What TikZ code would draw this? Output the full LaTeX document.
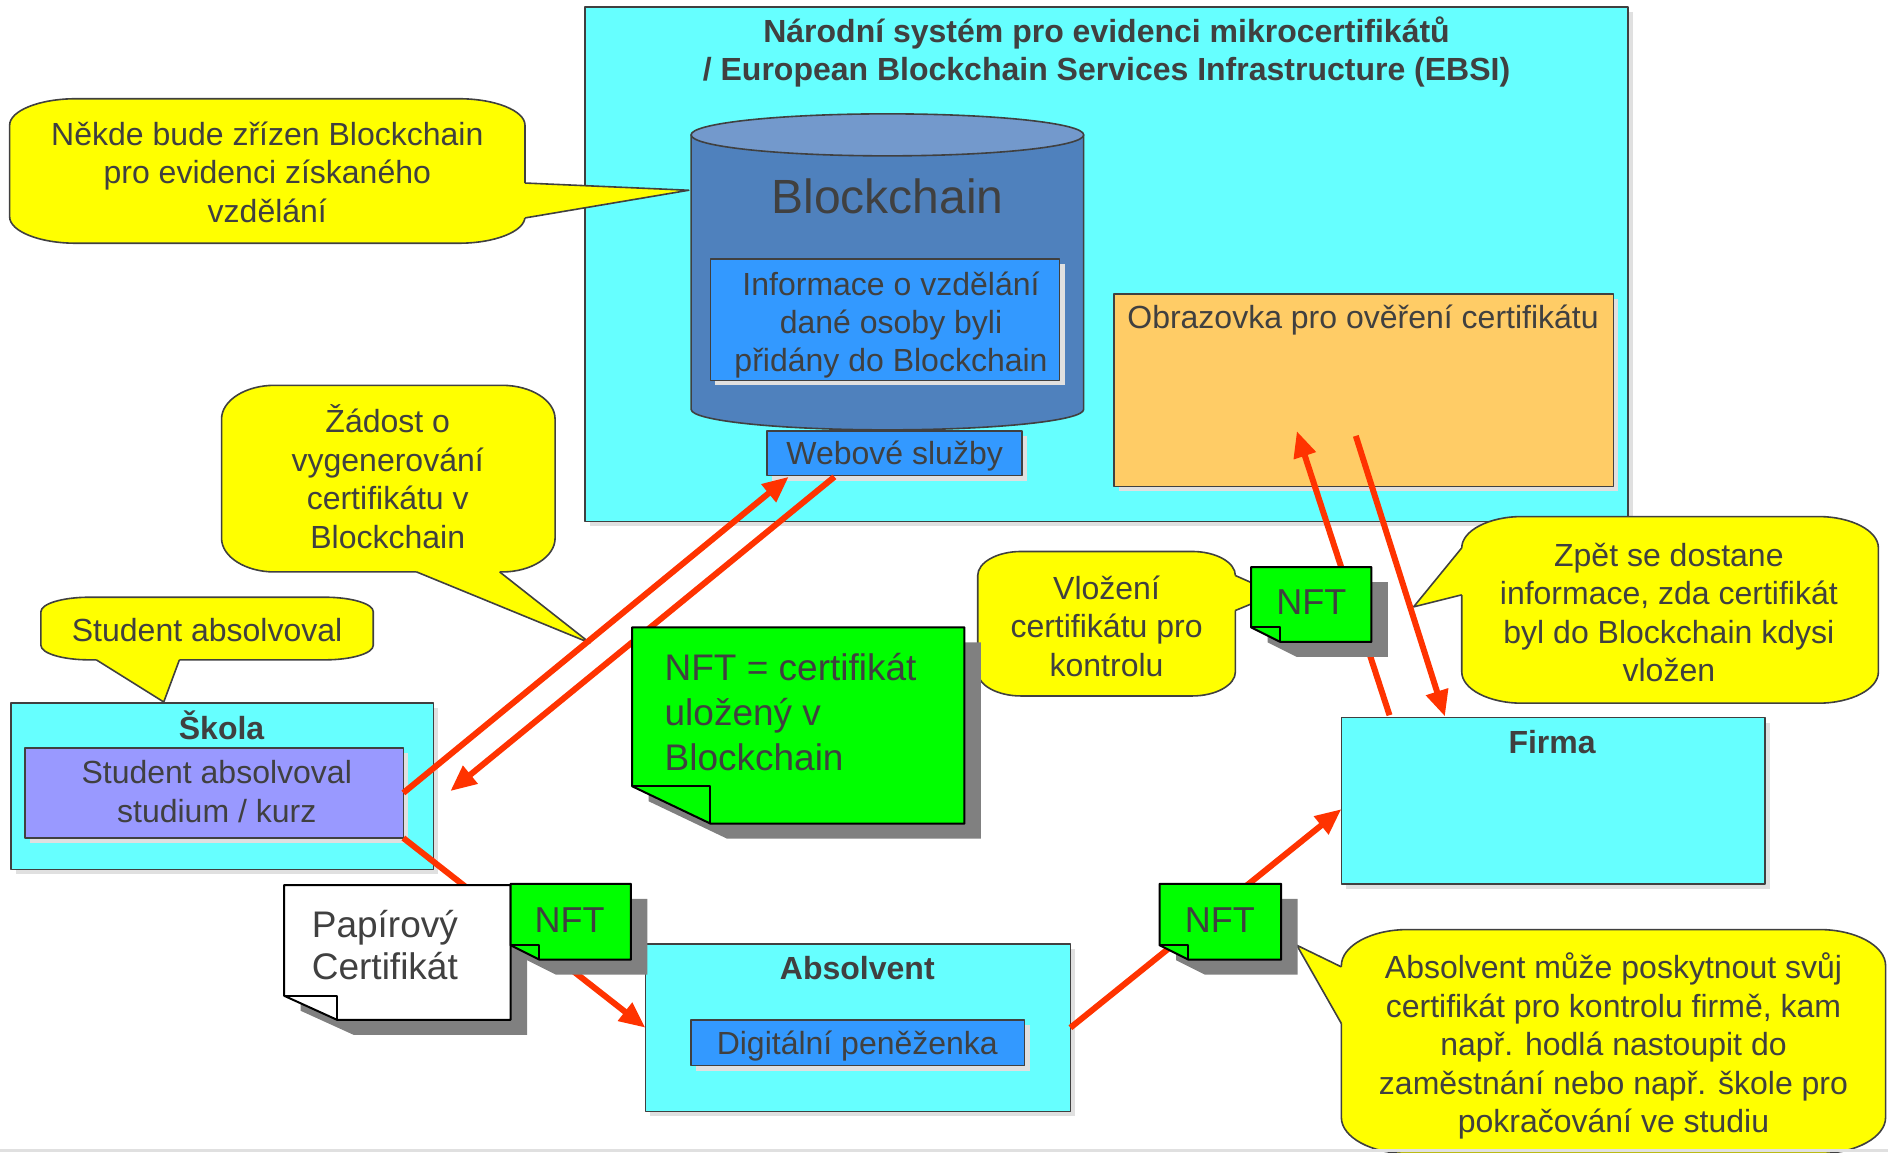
\documentclass[tikz,border=0pt]{standalone}
\usepackage{fontspec}
\setmainfont{Liberation Sans}
\usetikzlibrary{arrows.meta,shadows,fit}
\definecolor{cyanbox}{HTML}{66FFFF}
\definecolor{txt}{HTML}{404040}
\definecolor{bord}{HTML}{404040}
\definecolor{ybub}{HTML}{FFFF00}
\definecolor{nftg}{HTML}{00FF00}
\definecolor{blu}{HTML}{3399FF}
\definecolor{cyl}{HTML}{4F81BD}
\definecolor{cyltop}{HTML}{7399CC}
\definecolor{orng}{HTML}{FFCC66}
\definecolor{purp}{HTML}{9999FF}
\definecolor{arr}{HTML}{FF3300}
\definecolor{lsh}{HTML}{E0E0E0}
\definecolor{dsh}{HTML}{808080}
\newcommand\rrbox[6]{(#1,{#2+#6}) .. controls (#1,{#2+0.45*#6}) and ({#1+0.45*#5},#2) .. ({#1+#5},#2) -- ({#3-#5},#2) .. controls ({#3-0.45*#5},#2) and (#3,{#2+0.45*#6}) .. (#3,{#2+#6}) -- (#3,{#4-#6}) .. controls (#3,{#4-0.45*#6}) and ({#3-0.45*#5},#4) .. ({#3-#5},#4) -- ({#1+#5},#4) .. controls ({#1+0.45*#5},#4) and (#1,{#4-0.45*#6}) .. (#1,{#4-#6}) -- cycle}
\newcommand\notepath[7]{%
 \draw[note, fill=#1] (#2,#3) -- (#4,#3) -- (#4,#5) -- (#6,#5) -- (#2,#7) -- cycle;
 \draw[line width=2pt, line join=round] (#2,#7) -- (#6,#7) -- (#6,#5);}
\begin{document}
\begin{tikzpicture}[x=1.204pt,y=-1.204pt, line join=round,
 every node/.style={text=txt, inner sep=0pt, outer sep=0pt},
 box/.style={draw=bord, line width=1.6pt, general shadow={fill=lsh, shadow xshift=5pt, shadow yshift=-5pt}},
 bub/.style={draw=bord, line width=1.6pt, fill=ybub},
 ptr/.style={draw=bord, line width=1.6pt},
 note/.style={draw=black, line width=2pt, general shadow={fill=dsh, shadow xshift=16.5pt, shadow yshift=-15pt}},
 conn/.style={draw=arr, line width=6pt, -{Triangle[length=26pt,width=22pt]}},
 t32/.style={font=\fontsize{32}{38.5}\selectfont, align=center},
 b32/.style={font=\bfseries\fontsize{32}{38.5}\selectfont, align=center},
 nftt/.style={font=\fontsize{36}{43}\selectfont},
 ]
\useasboundingbox (0,0) rectangle (1568,957);
\clip (0,0) rectangle (1568,957);
% main system box
\node[box, fill=cyanbox, fit={(486,6) (1352,433)}] (ebsi) {};
\node[b32] (title) at (919,43) {Národní systém pro evidenci mikrocertifikátů\\/ European Blockchain Services Infrastructure (EBSI)};
% cylinder
\path[draw=bord, line width=1.6pt, fill=cyl] (574,112) -- (574,340) .. controls (574,349.4) and (647,357) .. (737,357) .. controls (827,357) and (900,349.4) .. (900,340) -- (900,112) -- cycle;
\draw[draw=bord, line width=1.6pt, fill=cyltop] (737,112) ellipse [x radius=196.3pt, y radius=21pt];
\node[fit={(574,95) (900,357)}] (chain) {};
\node[font=\fontsize{48}{56}\selectfont] (bclabel) at (737,163) {Blockchain};
\node[box, fill=blu, fit={(590,215) (880,316)}] (info) {};
\node[t32, font=\fontsize{32}{38}\selectfont] (infot) at (740,270) {Informace o vzdělání\\dané osoby byli\\přidány do Blockchain};
\node[box, fill=blu, fit={(637,358) (849,395)}] (web) {};
\node[t32] (webt) at (743,379) {Webové služby};
\node[box, fill=orng, fit={(925,244) (1340,404)}] (screen) {};
\node[t32] (screent) at (1132,266) {Obrazovka pro ověření certifikátu};
% Skola
\node[box, fill=cyanbox, fit={(9,584) (360,722)}] (skola) {};
\node[b32] (skolat) at (184,602) {Škola};
\node[box, fill=purp, fit={(21,621) (335,696)}] (stud) {};
\node[t32] (studt) at (180,657.5) {Student absolvoval\\studium / kurz};
% Absolvent
\node[box, fill=cyanbox, fit={(536,784) (889,923)}] (absol) {};
\node[b32] (absolt) at (712,804) {Absolvent};
\node[box, fill=blu, fit={(574,847) (851,885)}] (wallet) {};
\node[t32] (wallett) at (712,869) {Digitální peněženka};
% Firma
\node[box, fill=cyanbox, fit={(1114,596) (1466,734)}] (firma) {};
\node[b32] (firmat) at (1289,616) {Firma};
% callouts
\draw[bub] \rrbox{8}{82}{436}{202}{55}{22};
\fill[ybub] (428,152) -- (436,152) -- (572,158) -- (436,181) -- (428,181) -- cycle;
\draw[ptr] (436,152) -- (572,158) -- (436,181);
\node[t32] (c1) at (222,143) {Někde bude zřízen Blockchain\\pro evidenci získaného\\vzdělání};
\draw[bub] \rrbox{184}{320}{461}{475}{44}{28};
\fill[ybub] (346,468) -- (346,475) -- (490,534) -- (415,475) -- (415,468) -- cycle;
\draw[ptr] (346,475) -- (490,534) -- (415,475);
\node[t32] (c2) at (322,396) {Žádost o\\vygenerování\\certifikátu v\\Blockchain};
\draw[bub] \rrbox{34}{496}{310}{548}{40}{12};
\fill[ybub] (80,542) -- (80,548) -- (136,583) -- (149,548) -- (149,542) -- cycle;
\draw[ptr] (80,548) -- (136,583) -- (149,548);
\node[t32] (c3) at (172,523) {Student absolvoval};
\draw[bub] \rrbox{812}{458}{1026}{578}{36}{20};
\fill[ybub] (1018,478) -- (1026,478) -- (1060,493) -- (1026,507) -- (1018,507) -- cycle;
\draw[ptr] (1026,478) -- (1060,493) -- (1026,507);
\node[t32] (c4) at (919,520) {Vložení\\certifikátu pro\\kontrolu};
\draw[bub] \rrbox{1214}{429}{1560}{584}{50}{26};
\fill[ybub] (1222,455) -- (1214,455) -- (1174,504) -- (1214,494) -- (1222,494) -- cycle;
\draw[ptr] (1214,455) -- (1174,504) -- (1214,494);
\node[t32] (c5) at (1386,508.5) {Zpět se dostane\\informace, zda certifikát\\byl do Blockchain kdysi\\vložen};
\draw[bub] \rrbox{1114}{772}{1566}{958}{55}{30};
\fill[ybub] (1122,803) -- (1114,803) -- (1077,785) -- (1114,850) -- (1122,850) -- cycle;
\draw[ptr] (1114,803) -- (1077,785) -- (1114,850);
\node[t32] (c6) at (1340,869) {Absolvent může poskytnout svůj\\certifikát pro kontrolu firmě, kam\\např. hodlá nastoupit do\\zaměstnání nebo např. škole pro\\pokračování ve studiu};
% connectors
\coordinate (webA) at (655,396);
\coordinate (webB) at (693,396);
\coordinate (skolaB) at (374,657);
\coordinate (firmA) at (1114,672);
\coordinate (firmB) at (1154,594);
\coordinate (firmC) at (1200,595);
\coordinate (scrA) at (1077,358);
\coordinate (scrB) at (1126,362);
\draw[conn] (stud.east) -- (webA);
\draw[conn] (webB) -- (skolaB);
\draw[conn] (stud.south east) -- (absol.west);
\draw[conn] (absol.east) -- (firmA);
\draw[conn] (firmB) -- (scrA);
\draw[conn] (scrB) -- (firmC);
% notes
\notepath{nftg}{525}{521}{801}{684}{590}{653}
\node[font=\fontsize{37}{45}\selectfont, align=left, anchor=west] (nftbig) at (552,591.5) {NFT = certifikát\\uložený v\\Blockchain};
\notepath{nftg}{1039}{471}{1139}{533}{1063}{521}
\node[nftt] (nft1) at (1089,500) {NFT};
\notepath{white}{236}{735}{424}{847}{280}{827}
\node[font=\fontsize{37}{42}\selectfont, align=left, anchor=west] (paper) at (259,784.5) {Papírový\\Certifikát};
\notepath{nftg}{424}{734}{524}{797}{448}{785}
\node[nftt] (nft2) at (473,764) {NFT};
\notepath{nftg}{963}{734}{1064}{797}{987}{785}
\node[nftt] (nft3) at (1013,764) {NFT};
\fill[lsh] (0,954) rectangle (1568,957);
\end{tikzpicture}
\end{document}
